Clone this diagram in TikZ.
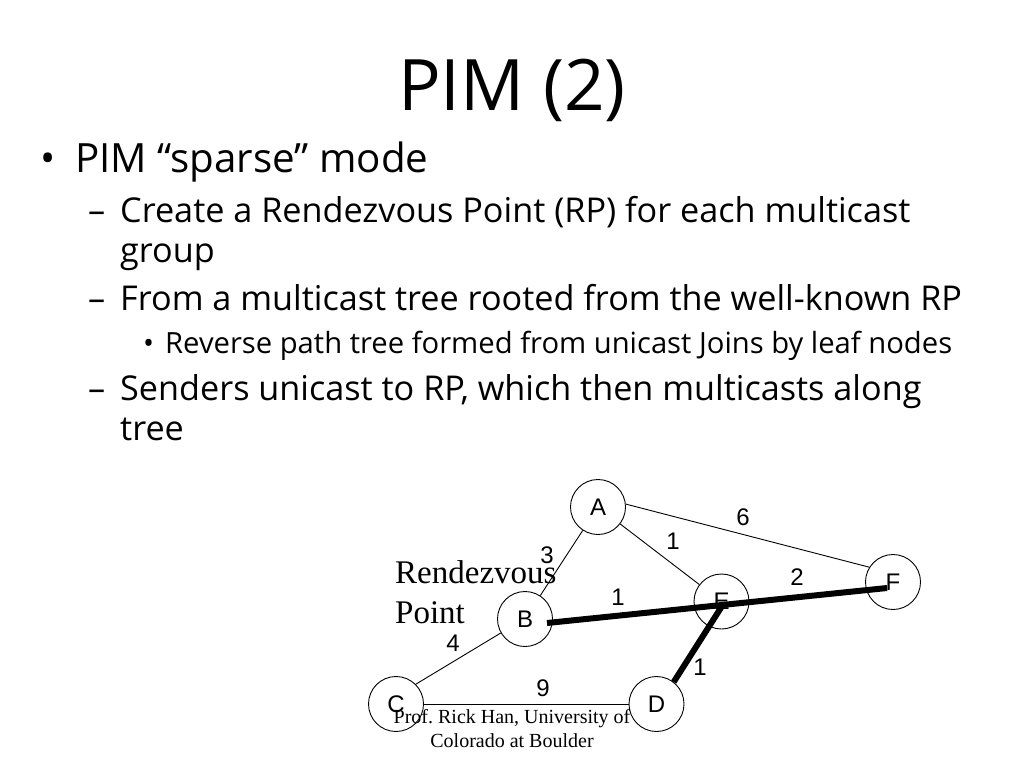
\documentclass[tikz,border=0pt]{standalone}
\usepackage{fontspec}
\setmainfont{Open Sans}
\newfontfamily\serif{Liberation Serif}
\newfontfamily\helv{Liberation Sans}
\frenchspacing
\begin{document}
\begin{tikzpicture}[x=1pt,y=-1pt,
  txt/.style={anchor=base west,inner sep=0pt},
  lvla/.style={txt,font=\fontsize{40.3}{44}\selectfont},
  lvlb/.style={txt,font=\fontsize{34.2}{36}\selectfont},
  lvlc/.style={txt,font=\fontsize{29.2}{30}\selectfont},
  router/.style={circle,draw,line width=0.9pt,minimum size=55pt,inner sep=0pt,font=\helv\fontsize{24}{24}\selectfont},
  wt/.style={inner sep=0pt,font=\helv\fontsize{24}{24}\selectfont},
  link/.style={line width=0.9pt},
  tree/.style={line width=6pt}]
\useasboundingbox (0,0) rectangle (1024,768);
\fill[white] (0,0) rectangle (1024,768);
% title
\node[anchor=base,inner sep=0pt,font=\fontsize{71}{80}\selectfont] (title) at (512,110) {PIM (2)};
% bullets
\node[lvla] (b1) at (40,172) {•};
\node[lvla] (t1) at (75,172) {PIM “sparse” mode};
\node[lvlb] (d1) at (88,222) {–};
\node[lvlb] (t2) at (120,222) {Create a Rendezvous Point (RP) for each multicast};
\node[lvlb] (t2b) at (120,262) {group};
\node[lvlb] (d2) at (88,310) {–};
\node[lvlb] (t3) at (120,310) {From a multicast tree rooted from the well-known RP};
\node[lvlc] (b3) at (143,353) {•};
\node[lvlc] (t4) at (165,353) {Reverse path tree formed from unicast Joins by leaf nodes};
\node[lvlb] (d3) at (88,400) {–};
\node[lvlb] (t5) at (120,400) {Senders unicast to RP, which then multicasts along};
\node[lvlb] (t5b) at (120,440) {tree};
% graph
\node[router] (A) at (598,507) {A};
\node[router] (B) at (525,619) {B};
\node[router] (C) at (396,704) {C};
\node[router] (D) at (656.5,704) {D};
\node[router] (E) at (721.5,601.5) {E};
\node[router] (F) at (893,582) {F};
\draw[link] (A) -- (B);
\draw[link] (A) -- (E);
\draw[link] (A.6) -- (F.148);
\draw[link] (C.45) -- (B.210);
\draw[link] (C.east) -- (D.west);
\coordinate (Bt) at (547,623);
\coordinate (Ft) at (887,588);
\coordinate (Et) at (723,604.5);
\draw[tree] (Bt) -- (Ft);
\draw[tree] (Et) -- (D.52);
% labels
\node[txt,font=\serif\fontsize{33}{40}\selectfont] (rp1) at (395,583) {Rendezvous};
\node[txt,font=\serif\fontsize{33}{40}\selectfont] (rp2) at (395,623) {Point};
\node[wt] (w1) at (547,555) {3};
\node[wt] (w2) at (673,541) {1};
\node[wt] (w3) at (743,517) {6};
\node[wt] (w4) at (797,577) {2};
\node[wt] (w5) at (618,597) {1};
\node[wt] (w6) at (453,643) {4};
\node[wt] (w7) at (543,688) {9};
\node[wt] (w8) at (700,667) {1};
\node[anchor=base,inner sep=0pt,font=\serif\fontsize{20}{24}\selectfont] (f1) at (512,723) {Prof. Rick Han, University of};
\node[anchor=base,inner sep=0pt,font=\serif\fontsize{20}{24}\selectfont] (f2) at (512,747) {Colorado at Boulder};
\end{tikzpicture}
\end{document}
